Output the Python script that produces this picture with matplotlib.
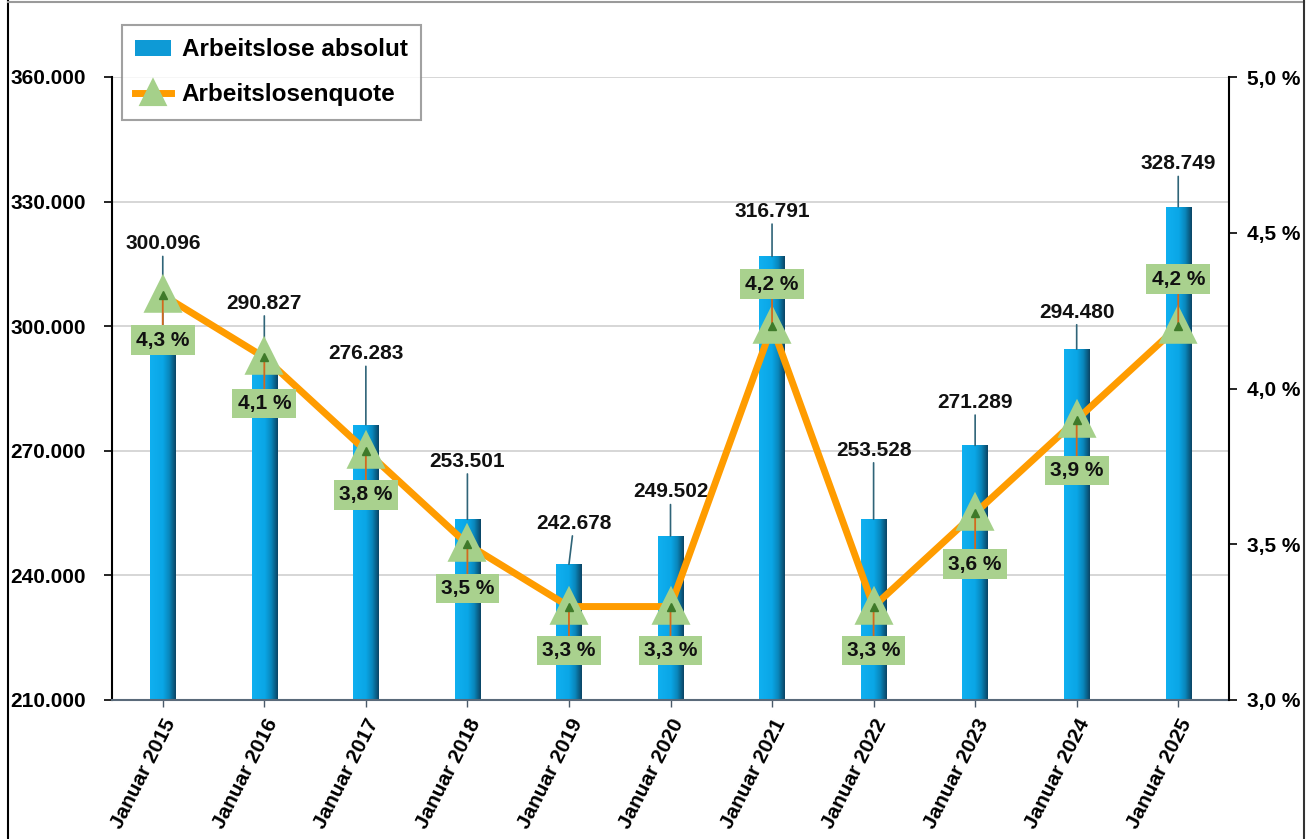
import numpy as np
import matplotlib
matplotlib.use("Agg")
import matplotlib.pyplot as plt
from matplotlib.colors import LinearSegmentedColormap
from matplotlib.patches import Rectangle
from matplotlib.lines import Line2D
from matplotlib.ticker import FuncFormatter

plt.rcParams['font.family'] = ['Liberation Sans', 'DejaVu Sans']
plt.rcParams['font.weight'] = 'bold'

# ---- data ----
categories = ["Januar 2015", "Januar 2016", "Januar 2017", "Januar 2018", "Januar 2019",
              "Januar 2020", "Januar 2021", "Januar 2022", "Januar 2023", "Januar 2024",
              "Januar 2025"]
arbeitslose = [300096, 290827, 276283, 253501, 242678, 249502, 316791, 253528, 271289, 294480, 328749]
quote = [4.3, 4.1, 3.8, 3.5, 3.3, 3.3, 4.2, 3.3, 3.6, 3.9, 4.2]
left_ticks = [210000, 240000, 270000, 300000, 330000, 360000]
right_ticks = [3.0, 3.5, 4.0, 4.5, 5.0]

# label offsets (pixels) for value labels and percent labels
val_off = [(0, 82), (0, 61), (0, 71), (0, 58), (5, 41), (0, 44), (0, 45), (0, 69), (0, 43), (0, 37), (0, 43)]
pct_off = [-45, -46, -44, -44, -44, -44, 42, -44, -51, -51, 47]

W, H = 1312, 839
fig = plt.figure(figsize=(W / 100, H / 100), dpi=100)
ax = fig.add_axes([112 / W, 1 - 700 / H, (1229 - 112) / W, (700 - 77) / H])
ax2 = ax.twinx()

x = np.arange(len(categories))
bw = 0.25
bars = ax.bar(x, arbeitslose, width=bw, bottom=0, color="#0ea2dd", zorder=2)
cmap = LinearSegmentedColormap.from_list("barg", [(0, "#10b0f0"), (0.5, "#0aa6e6"),
                                                  (0.75, "#0986bb"), (1.0, "#0b4565")])
grad = np.linspace(0, 1, 64).reshape(1, -1)
for b in bars:
    x0, wdt, h = b.get_x(), b.get_width(), b.get_height()
    im = ax.imshow(grad, extent=[x0, x0 + wdt, 210000, h], aspect='auto', cmap=cmap,
                   zorder=2.1, interpolation='bilinear')
    im.set_clip_path(b)

ax.set_xlim(-0.5, len(categories) - 0.5)
ax.set_ylim(210000, 360000)
ax.set_yticks(left_ticks)
ax.yaxis.set_major_formatter(FuncFormatter(lambda v, p: f"{int(v):,}".replace(",", ".")))
ax.grid(axis='y', color="#d0d0d0", linewidth=1.2, zorder=0)
ax.set_axisbelow(True)
ax.set_xticks(x)
ax.set_xticklabels(categories, rotation=63, ha='right', rotation_mode='anchor')
ax.tick_params(axis='x', length=5, width=1, color="#4a5a6a", pad=6, labelsize=15)
ax.tick_params(axis='y', length=6, width=1.2, pad=13, labelsize=15)
for s in ['top', 'right']:
    ax.spines[s].set_visible(False)
ax.spines['left'].set_linewidth(1.5)
ax.spines['bottom'].set_color("#5a6a7a")
ax.spines['bottom'].set_linewidth(1.5)

# value labels with leader lines
for i, v in enumerate(arbeitslose):
    ax.annotate(f"{v:,}".replace(",", "."), xy=(x[i], v), xytext=val_off[i],
                textcoords='offset pixels', ha='center', va='center', fontsize=15,
                fontweight='bold', color="#111111", zorder=5,
                bbox=dict(boxstyle='square,pad=0.15', fc='none', ec='none'),
                arrowprops=dict(arrowstyle='-', color="#2f6478", lw=1.2,
                                shrinkA=0, shrinkB=0))

# line on secondary axis
ax2.plot(x, quote, color="#ff9c00", lw=5, zorder=3, solid_joinstyle='round')
ax2.plot(x, quote, ls='none', marker='^', markersize=21, color="#a5d08a",
         markeredgecolor="#a5d08a", markeredgewidth=4, zorder=4)
ax2.plot(x, quote, ls='none', marker='^', markersize=6, color="#3f7a2a", zorder=6)
for i, q in enumerate(quote):
    ax2.annotate(f"{q:.1f} %".replace(".", ","), xy=(x[i], q), xytext=(0, pct_off[i]),
                 textcoords='offset pixels', ha='center', va='center', fontsize=15,
                 fontweight='bold', color="#111111", zorder=5,
                 bbox=dict(boxstyle='square,pad=0.25', fc="#a9d18e", ec='none'),
                 arrowprops=dict(arrowstyle='-', color="#d2691e", lw=1.3,
                                 shrinkA=0, shrinkB=0))
ax2.set_ylim(3.0, 5.0)
ax2.set_yticks(right_ticks)
ax2.yaxis.set_major_formatter(FuncFormatter(lambda v, p: f"{v:.1f} %".replace(".", ",")))
ax2.tick_params(axis='y', length=6, width=1.2, pad=7, labelsize=15)
for s in ['top', 'left', 'bottom']:
    ax2.spines[s].set_visible(False)
ax2.spines['right'].set_linewidth(1.5)

# legend
h1 = Rectangle((0, 0), 1, 1, fc="#0e9ad6", ec='none')
h2 = Line2D([], [], color="#ff9c00", lw=5, marker='^', markersize=16,
            markerfacecolor="#a5d08a", markeredgecolor="#a5d08a", markeredgewidth=3)
leg = fig.legend([h1, h2], ["Arbeitslose absolut", "Arbeitslosenquote"],
                 loc='upper left', bbox_to_anchor=(122 / W, 1 - 25 / H), borderaxespad=0,
                 prop=dict(size=17.5, weight='bold'), frameon=True, fancybox=False,
                 edgecolor="#8a8a8a", handlelength=1.45, handleheight=0.6,
                 borderpad=0.55, labelspacing=0.9, handletextpad=0.45)
leg.get_frame().set_linewidth(1.5)

# outer frame
fig.add_artist(Line2D([8 / W, 8 / W], [0, 1 - 1 / H], transform=fig.transFigure, color='black', lw=1.5))
fig.add_artist(Line2D([8 / W, 1304 / W], [1 - 1.5 / H, 1 - 1.5 / H], transform=fig.transFigure, color='#9a9a9a', lw=1.5))
fig.add_artist(Line2D([1304 / W, 1304 / W], [0, 1 - 1 / H], transform=fig.transFigure, color='#333333', lw=1.5))

fig.savefig("out.png", dpi=100)
